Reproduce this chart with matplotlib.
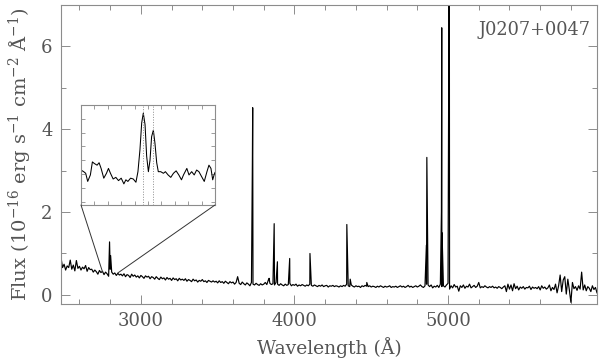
import numpy as np
import matplotlib
matplotlib.use('Agg')
import matplotlib.pyplot as plt
from matplotlib.ticker import MultipleLocator
from matplotlib.patches import ConnectionPatch

# --- Data ---
# continuum, 10 A grid from 2480 to 5970 A (flux in 1e-16 erg/s/cm2/A)
GRID_START = 2480
GRID_STEP = 10
cont_flux = [
    0.90, 0.66, 0.74, 0.60, 0.70, 0.66, 0.84, 0.62, 0.72, 0.58, 0.83, 0.64, 0.69, 0.60, 0.67, 0.63, 0.71, 0.57, 0.66, 0.61,
    0.62, 0.55, 0.60, 0.56, 0.50, 0.59, 0.54, 0.57, 0.49, 0.55, 0.51, 0.45, 0.62, 0.55, 0.50, 0.53, 0.47, 0.52, 0.48, 0.50,
    0.46, 0.51, 0.44, 0.49, 0.47, 0.42, 0.50, 0.45, 0.48, 0.43, 0.46, 0.41, 0.47, 0.44, 0.40, 0.46, 0.43, 0.45, 0.39, 0.44,
    0.42, 0.38, 0.44, 0.40, 0.37, 0.43, 0.39, 0.41, 0.36, 0.42, 0.38, 0.40, 0.35, 0.41, 0.37, 0.39, 0.34, 0.40, 0.36, 0.38,
    0.35, 0.39, 0.33, 0.37, 0.35, 0.32, 0.38, 0.34, 0.36, 0.31, 0.35, 0.33, 0.37, 0.32, 0.34, 0.30, 0.35, 0.33, 0.31, 0.34,
    0.31, 0.33, 0.29, 0.34, 0.30, 0.32, 0.28, 0.33, 0.30, 0.27, 0.32, 0.29, 0.31, 0.26, 0.30, 0.44, 0.28, 0.25, 0.31, 0.27,
    0.24, 0.29, 0.26, 0.22, 0.30, 0.26, 0.24, 0.28, 0.25, 0.23, 0.27, 0.24, 0.26, 0.30, 0.25, 0.36, 0.28, 0.25, 0.27, 0.24,
    0.30, 0.26, 0.23, 0.27, 0.24, 0.22, 0.26, 0.23, 0.25, 0.28, 0.22, 0.25, 0.23, 0.26, 0.21, 0.24, 0.22, 0.25, 0.23, 0.21,
    0.24, 0.22, 0.26, 0.23, 0.21, 0.24, 0.22, 0.20, 0.23, 0.21, 0.24, 0.20, 0.22, 0.23, 0.19, 0.22, 0.21, 0.23, 0.20, 0.22,
    0.21, 0.19, 0.22, 0.20, 0.23, 0.21, 0.26, 0.22, 0.20, 0.24, 0.21, 0.19, 0.22, 0.20, 0.21, 0.18, 0.22, 0.20, 0.23, 0.21,
    0.20, 0.22, 0.19, 0.21, 0.20, 0.18, 0.21, 0.19, 0.22, 0.20, 0.18, 0.21, 0.19, 0.20, 0.22, 0.18, 0.20, 0.19, 0.21, 0.18,
    0.20, 0.22, 0.19, 0.21, 0.18, 0.20, 0.23, 0.19, 0.21, 0.18, 0.20, 0.22, 0.19, 0.21, 0.24, 0.20, 0.18, 0.22, 0.26, 0.24,
    0.20, 0.24, 0.17, 0.21, 0.19, 0.23, 0.18, 0.26, 0.20, 0.22, 0.19, 0.24, 0.28, 0.14, 0.22, 0.17, 0.25, 0.19, 0.21, 0.09,
    0.22, 0.18, 0.24, 0.16, 0.21, 0.19, 0.26, 0.17, 0.20, 0.23, 0.18, 0.21, 0.30, 0.17, 0.20, 0.18, 0.22, 0.19, 0.17, 0.20,
    0.18, 0.21, 0.17, 0.19, 0.16, 0.20, 0.18, 0.15, 0.19, 0.22, 0.08, 0.26, 0.14, 0.24, 0.10, 0.27, 0.15, 0.21, 0.12, 0.19,
    0.16, 0.20, 0.14, 0.18, 0.17, 0.21, 0.13, 0.19, 0.16, 0.18, 0.15, 0.20, 0.12, 0.22, 0.16, 0.19, 0.14, 0.17, 0.24, 0.10,
    0.18, 0.13, 0.26, 0.05, 0.22, 0.48, 0.08, 0.36, 0.44, 0.02, 0.38, 0.12, -0.18, 0.30, 0.15, 0.20, 0.11, 0.22, 0.14, 0.55,
    0.12, 0.24, 0.10, 0.20, 0.16, 0.08, 0.22, 0.13, 0.18, 0.05,
]

# emission line points (wavelength, flux)
line_wave = [2796, 2803, 3726, 3728, 3835, 3868, 3889, 3969, 4101, 4341, 4363, 4471,
             4859, 4862, 4957, 4959, 4961, 5005, 5007, 5009]
line_flux = [1.28, 0.95, 3.20, 4.52, 0.40, 1.72, 0.80, 0.88, 1.00, 1.70, 0.38, 0.30,
             1.20, 3.32, 2.00, 6.45, 1.50, 6.00, 19.0, 5.00]

# inset: Mg II region
inset_wave = [2750, 2752, 2753.5, 2755, 2757, 2758.5, 2760, 2762, 2763.5, 2765, 2767, 2769,
              2770.5, 2772, 2774, 2776, 2778, 2780, 2782, 2783.5, 2785, 2787, 2789, 2791,
              2792.5, 2794, 2795.3, 2796.5, 2797.8, 2799, 2800.3, 2801.5, 2802.7, 2804,
              2805.2, 2806.5, 2807.7, 2809.5, 2811.5, 2813, 2815, 2817, 2819, 2821, 2823,
              2825, 2826.5, 2829, 2830.6, 2832.6, 2834.5, 2836.3, 2838, 2840, 2842, 2844,
              2845.5, 2847, 2848.3, 2849.5, 2850]
inset_flux = [0.56, 0.54, 0.52, 0.42, 0.50, 0.66, 0.64, 0.62, 0.65, 0.58, 0.46, 0.52,
              0.58, 0.52, 0.45, 0.47, 0.43, 0.46, 0.39, 0.44, 0.42, 0.46, 0.45, 0.41,
              0.54, 0.81, 1.14, 1.26, 1.12, 0.73, 0.54, 0.68, 0.97, 1.05,
              0.89, 0.65, 0.54, 0.54, 0.52, 0.54, 0.50, 0.47, 0.52, 0.55, 0.50,
              0.44, 0.50, 0.58, 0.50, 0.54, 0.50, 0.56, 0.54, 0.48, 0.42, 0.54,
              0.62, 0.58, 0.44, 0.51, 0.53]
mg2_lines = [2796.35, 2803.53]

OBJECT_NAME = 'J0207+0047'
FRAME = '#8c8c8c'
TEXT = '#555555'

plt.rcParams['font.family'] = ['DejaVu Serif']
plt.rcParams['mathtext.fontset'] = 'dejavuserif'

# build the spectrum from the grid and the line points
grid_wave = GRID_START + GRID_STEP * np.arange(len(cont_flux))
wave = np.concatenate([grid_wave, line_wave])
flux = np.concatenate([cont_flux, line_flux])
order = np.argsort(wave)
wave, flux = wave[order], flux[order]

fig = plt.figure(figsize=(6.0, 3.64), dpi=100)
ax = fig.add_axes([0.1017, 0.1648, 0.8933, 0.8215])
ax.plot(wave, flux, color='black', lw=0.85)
ax.set_xlim(2480, 5970)
ax.set_ylim(-0.22, 7.0)

ax.xaxis.set_major_locator(MultipleLocator(1000))
ax.xaxis.set_minor_locator(MultipleLocator(200))
ax.yaxis.set_major_locator(MultipleLocator(2))
ax.yaxis.set_minor_locator(MultipleLocator(1))
ax.tick_params(which='both', direction='in', top=True, right=True, color=FRAME,
               labelcolor=TEXT, labelsize=13, width=0.7)
ax.tick_params(which='major', length=6.5, pad=6)
ax.tick_params(which='minor', length=3.5)
for s in ax.spines.values():
    s.set_color(FRAME)
    s.set_linewidth(0.8)

ax.set_xlabel('Wavelength (Å)', color=TEXT, fontsize=13.5, labelpad=5)
ax.set_ylabel(r'Flux (10$^{-16}$ erg s$^{-1}$ cm$^{-2}$ Å$^{-1}$)', color=TEXT,
              fontsize=14, labelpad=6)
ax.text(0.987, 0.916, OBJECT_NAME, transform=ax.transAxes, ha='right', va='center',
        color=TEXT, fontsize=12.8)

# --- inset ---
ins = fig.add_axes([0.135, 0.4368, 0.2233, 0.2747])
ins.plot(inset_wave, inset_flux, color='black', lw=0.75)
for w in mg2_lines:
    ins.axvline(w, color=FRAME, ls=':', lw=0.7)
ins.set_xlim(2750, 2850)
ins.set_ylim(0.13, 1.36)
ins.xaxis.set_major_locator(MultipleLocator(10))
ins.yaxis.set_major_locator(MultipleLocator(0.17))
ins.tick_params(which='both', direction='in', top=True, right=True, color=FRAME,
                length=3, width=0.6, labelbottom=False, labelleft=False)
for s in ins.spines.values():
    s.set_color(FRAME)
    s.set_linewidth(0.8)

# connector lines from the inset to the zoomed region
for corner, wx, fy in [((0, 0), 2750, 0.56), ((1, 0), 2850, 0.53)]:
    con = ConnectionPatch(xyA=corner, coordsA=ins.transAxes, xyB=(wx, fy),
                          coordsB=ax.transData, color='#333333', lw=0.7)
    fig.add_artist(con)

plt.savefig('out.png', dpi=100)
